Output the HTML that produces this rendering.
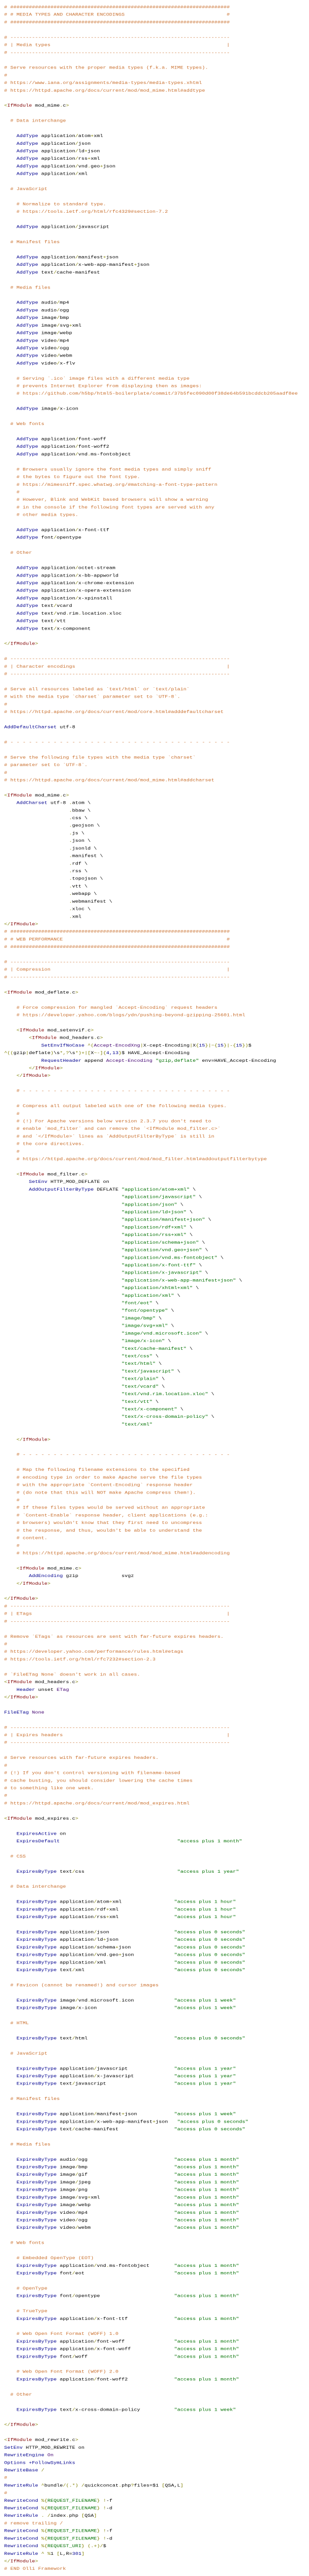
<!DOCTYPE html>
<html><head><meta charset="utf-8">
<meta name="viewport" content="width=600, initial-scale=1">
<style>
html,body{margin:0;padding:0;background:#fff;width:600px;height:6118px;overflow:hidden;-webkit-text-size-adjust:none;text-size-adjust:none;}
#clip{position:absolute;left:0;top:0;width:600px;height:6118px;overflow:hidden;}
#w{position:absolute;left:8px;top:8px;width:1184px;transform:scale(0.5);transform-origin:0 0;font-family:"Liberation Mono",monospace;font-size:20px;line-height:36px;color:#000;}
#w p{margin:0;padding:0;height:36px;overflow:visible;white-space:pre;}
i,b,u,s,em,var{font-style:normal;font-weight:normal;text-decoration:none;}
i{color:#c96f2d}
b{color:#00008f}
u{color:#800000}
em{color:#808000}
s{color:#007000}
var{color:#400070}
</style></head><body><div id="clip"><div id="w">
<p><i># #######################################################################</i></p>
<p><i># # MEDIA TYPES AND CHARACTER ENCODINGS                                 #</i></p>
<p><i># #######################################################################</i></p>
<p></p>
<p><i># -----------------------------------------------------------------------</i></p>
<p><i># | Media types                                                         |</i></p>
<p><i># -----------------------------------------------------------------------</i></p>
<p></p>
<p><i># Serve resources with the proper media types (f.k.a. MIME types).</i></p>
<p><i>#</i></p>
<p><i># https://www.iana.org/assignments/media-types/media-types.xhtml</i></p>
<p><i># https://httpd.apache.org/docs/current/mod/mod_mime.html#addtype</i></p>
<p></p>
<p><em>&lt;</em><u>IfModule</u> mod_mime<em>.</em>c<em>&gt;</em></p>
<p></p>
<p>  <i># Data interchange</i></p>
<p></p>
<p>    <b>AddType</b> application<em>/</em>atom<em>+</em>xml</p>
<p>    <b>AddType</b> application<em>/</em>json</p>
<p>    <b>AddType</b> application<em>/</em>ld<em>+</em>json</p>
<p>    <b>AddType</b> application<em>/</em>rss<em>+</em>xml</p>
<p>    <b>AddType</b> application<em>/</em>vnd<em>.</em>geo<em>+</em>json</p>
<p>    <b>AddType</b> application<em>/</em>xml</p>
<p></p>
<p>  <i># JavaScript</i></p>
<p></p>
<p>    <i># Normalize to standard type.</i></p>
<p>    <i># https://tools.ietf.org/html/rfc4329#section-7.2</i></p>
<p></p>
<p>    <b>AddType</b> application<em>/</em>javascript</p>
<p></p>
<p>  <i># Manifest files</i></p>
<p></p>
<p>    <b>AddType</b> application<em>/</em>manifest<em>+</em>json</p>
<p>    <b>AddType</b> application<em>/</em>x-web-app-manifest<em>+</em>json</p>
<p>    <b>AddType</b> text<em>/</em>cache-manifest</p>
<p></p>
<p>  <i># Media files</i></p>
<p></p>
<p>    <b>AddType</b> audio<em>/</em>mp4</p>
<p>    <b>AddType</b> audio<em>/</em>ogg</p>
<p>    <b>AddType</b> image<em>/</em>bmp</p>
<p>    <b>AddType</b> image<em>/</em>svg<em>+</em>xml</p>
<p>    <b>AddType</b> image<em>/</em>webp</p>
<p>    <b>AddType</b> video<em>/</em>mp4</p>
<p>    <b>AddType</b> video<em>/</em>ogg</p>
<p>    <b>AddType</b> video<em>/</em>webm</p>
<p>    <b>AddType</b> video<em>/</em>x-flv</p>
<p></p>
<p>    <i># Serving `.ico` image files with a different media type</i></p>
<p>    <i># prevents Internet Explorer from displaying then as images:</i></p>
<p>    <i># https://github.com/h5bp/html5-boilerplate/commit/37b5fec090d00f38de64b591bcddcb205aadf8ee</i></p>
<p></p>
<p>    <b>AddType</b> image<em>/</em>x-icon</p>
<p></p>
<p>  <i># Web fonts</i></p>
<p></p>
<p>    <b>AddType</b> application<em>/</em>font-woff</p>
<p>    <b>AddType</b> application<em>/</em>font-woff2</p>
<p>    <b>AddType</b> application<em>/</em>vnd<em>.</em>ms-fontobject</p>
<p></p>
<p>    <i># Browsers usually ignore the font media types and simply sniff</i></p>
<p>    <i># the bytes to figure out the font type.</i></p>
<p>    <i># https://mimesniff.spec.whatwg.org/#matching-a-font-type-pattern</i></p>
<p>    <i>#</i></p>
<p>    <i># However, Blink and WebKit based browsers will show a warning</i></p>
<p>    <i># in the console if the following font types are served with any</i></p>
<p>    <i># other media types.</i></p>
<p></p>
<p>    <b>AddType</b> application<em>/</em>x-font-ttf</p>
<p>    <b>AddType</b> font<em>/</em>opentype</p>
<p></p>
<p>  <i># Other</i></p>
<p></p>
<p>    <b>AddType</b> application<em>/</em>octet-stream</p>
<p>    <b>AddType</b> application<em>/</em>x-bb-appworld</p>
<p>    <b>AddType</b> application<em>/</em>x-chrome-extension</p>
<p>    <b>AddType</b> application<em>/</em>x-opera-extension</p>
<p>    <b>AddType</b> application<em>/</em>x-xpinstall</p>
<p>    <b>AddType</b> text<em>/</em>vcard</p>
<p>    <b>AddType</b> text<em>/</em>vnd<em>.</em>rim<em>.</em>location<em>.</em>xloc</p>
<p>    <b>AddType</b> text<em>/</em>vtt</p>
<p>    <b>AddType</b> text<em>/</em>x-component</p>
<p></p>
<p><em>&lt;/</em><u>IfModule</u><em>&gt;</em></p>
<p></p>
<p><i># -----------------------------------------------------------------------</i></p>
<p><i># | Character encodings                                                 |</i></p>
<p><i># -----------------------------------------------------------------------</i></p>
<p></p>
<p><i># Serve all resources labeled as `text/html` or `text/plain`</i></p>
<p><i># with the media type `charset` parameter set to `UTF-8`.</i></p>
<p><i>#</i></p>
<p><i># https://httpd.apache.org/docs/current/mod/core.html#adddefaultcharset</i></p>
<p></p>
<p><b>AddDefaultCharset</b> utf-8</p>
<p></p>
<p><i># - - - - - - - - - - - - - - - - - - - - - - - - - - - - - - - - - - - -</i></p>
<p></p>
<p><i># Serve the following file types with the media type `charset`</i></p>
<p><i># parameter set to `UTF-8`.</i></p>
<p><i>#</i></p>
<p><i># https://httpd.apache.org/docs/current/mod/mod_mime.html#addcharset</i></p>
<p></p>
<p><em>&lt;</em><u>IfModule</u> mod_mime<em>.</em>c<em>&gt;</em></p>
<p>    <b>AddCharset</b> utf-8 <em>.</em>atom \</p>
<p>                     <em>.</em>bbaw \</p>
<p>                     <em>.</em>css \</p>
<p>                     <em>.</em>geojson \</p>
<p>                     <em>.</em>js \</p>
<p>                     <em>.</em>json \</p>
<p>                     <em>.</em>jsonld \</p>
<p>                     <em>.</em>manifest \</p>
<p>                     <em>.</em>rdf \</p>
<p>                     <em>.</em>rss \</p>
<p>                     <em>.</em>topojson \</p>
<p>                     <em>.</em>vtt \</p>
<p>                     <em>.</em>webapp \</p>
<p>                     <em>.</em>webmanifest \</p>
<p>                     <em>.</em>xloc \</p>
<p>                     <em>.</em>xml</p>
<p><em>&lt;/</em><u>IfModule</u><em>&gt;</em></p>
<p><i># #######################################################################</i></p>
<p><i># # WEB PERFORMANCE                                                     #</i></p>
<p><i># #######################################################################</i></p>
<p></p>
<p><i># -----------------------------------------------------------------------</i></p>
<p><i># | Compression                                                         |</i></p>
<p><i># -----------------------------------------------------------------------</i></p>
<p></p>
<p><em>&lt;</em><u>IfModule</u> mod_deflate<em>.</em>c<em>&gt;</em></p>
<p></p>
<p>    <i># Force compression for mangled `Accept-Encoding` request headers</i></p>
<p>    <i># https://developer.yahoo.com/blogs/ydn/pushing-beyond-gzipping-25601.html</i></p>
<p></p>
<p>    <em>&lt;</em><u>IfModule</u> mod_setenvif<em>.</em>c<em>&gt;</em></p>
<p>        <em>&lt;</em><u>IfModule</u> mod_headers<em>.</em>c<em>&gt;</em></p>
<p>            <b>SetEnvIfNoCase</b> <em>^(</em><var>Accept-EncodXng</var><em>|</em>X-cept-Encoding<em>|</em>X<em>{</em><b>15</b><em>}|~{</em><b>15</b><em>}|-{</em><b>15</b><em>})</em>$</p>
<p><em>^((</em>gzip<em>|</em>deflate<em>)</em>\s<em>*,?</em>\s<em>*)+|[</em>X<em>~-]{</em><b>4,13</b><em>}</em>$ HAVE_Accept-Encoding</p>
<p>            <b>RequestHeader</b> append <var>Accept-Encoding</var> <s>"gzip,deflate"</s> env=HAVE_Accept-Encoding</p>
<p>        <em>&lt;/</em><u>IfModule</u><em>&gt;</em></p>
<p>    <em>&lt;/</em><u>IfModule</u><em>&gt;</em></p>
<p></p>
<p>    <i># - - - - - - - - - - - - - - - - - - - - - - - - - - - - - - - - - -</i></p>
<p></p>
<p>    <i># Compress all output labeled with one of the following media types.</i></p>
<p>    <i>#</i></p>
<p>    <i># (!) For Apache versions below version 2.3.7 you don't need to</i></p>
<p>    <i># enable `mod_filter` and can remove the `&lt;IfModule mod_filter.c&gt;`</i></p>
<p>    <i># and `&lt;/IfModule&gt;` lines as `AddOutputFilterByType` is still in</i></p>
<p>    <i># the core directives.</i></p>
<p>    <i>#</i></p>
<p>    <i># https://httpd.apache.org/docs/current/mod/mod_filter.html#addoutputfilterbytype</i></p>
<p></p>
<p>    <em>&lt;</em><u>IfModule</u> mod_filter<em>.</em>c<em>&gt;</em></p>
<p>        <b>SetEnv</b> HTTP_MOD_DEFLATE on</p>
<p>        <b>AddOutputFilterByType</b> DEFLATE <s>"application/atom+xml"</s> \</p>
<p>                                      <s>"application/javascript"</s> \</p>
<p>                                      <s>"application/json"</s> \</p>
<p>                                      <s>"application/ld+json"</s> \</p>
<p>                                      <s>"application/manifest+json"</s> \</p>
<p>                                      <s>"application/rdf+xml"</s> \</p>
<p>                                      <s>"application/rss+xml"</s> \</p>
<p>                                      <s>"application/schema+json"</s> \</p>
<p>                                      <s>"application/vnd.geo+json"</s> \</p>
<p>                                      <s>"application/vnd.ms-fontobject"</s> \</p>
<p>                                      <s>"application/x-font-ttf"</s> \</p>
<p>                                      <s>"application/x-javascript"</s> \</p>
<p>                                      <s>"application/x-web-app-manifest+json"</s> \</p>
<p>                                      <s>"application/xhtml+xml"</s> \</p>
<p>                                      <s>"application/xml"</s> \</p>
<p>                                      <s>"font/eot"</s> \</p>
<p>                                      <s>"font/opentype"</s> \</p>
<p>                                      <s>"image/bmp"</s> \</p>
<p>                                      <s>"image/svg+xml"</s> \</p>
<p>                                      <s>"image/vnd.microsoft.icon"</s> \</p>
<p>                                      <s>"image/x-icon"</s> \</p>
<p>                                      <s>"text/cache-manifest"</s> \</p>
<p>                                      <s>"text/css"</s> \</p>
<p>                                      <s>"text/html"</s> \</p>
<p>                                      <s>"text/javascript"</s> \</p>
<p>                                      <s>"text/plain"</s> \</p>
<p>                                      <s>"text/vcard"</s> \</p>
<p>                                      <s>"text/vnd.rim.location.xloc"</s> \</p>
<p>                                      <s>"text/vtt"</s> \</p>
<p>                                      <s>"text/x-component"</s> \</p>
<p>                                      <s>"text/x-cross-domain-policy"</s> \</p>
<p>                                      <s>"text/xml"</s></p>
<p></p>
<p>    <em>&lt;/</em><u>IfModule</u><em>&gt;</em></p>
<p></p>
<p>    <i># - - - - - - - - - - - - - - - - - - - - - - - - - - - - - - - - - -</i></p>
<p></p>
<p>    <i># Map the following filename extensions to the specified</i></p>
<p>    <i># encoding type in order to make Apache serve the file types</i></p>
<p>    <i># with the appropriate `Content-Encoding` response header</i></p>
<p>    <i># (do note that this will NOT make Apache compress them!).</i></p>
<p>    <i>#</i></p>
<p>    <i># If these files types would be served without an appropriate</i></p>
<p>    <i># `Content-Enable` response header, client applications (e.g.:</i></p>
<p>    <i># browsers) wouldn't know that they first need to uncompress</i></p>
<p>    <i># the response, and thus, wouldn't be able to understand the</i></p>
<p>    <i># content.</i></p>
<p>    <i>#</i></p>
<p>    <i># https://httpd.apache.org/docs/current/mod/mod_mime.html#addencoding</i></p>
<p></p>
<p>    <em>&lt;</em><u>IfModule</u> mod_mime<em>.</em>c<em>&gt;</em></p>
<p>        <b>AddEncoding</b> gzip              svgz</p>
<p>    <em>&lt;/</em><u>IfModule</u><em>&gt;</em></p>
<p></p>
<p><em>&lt;/</em><u>IfModule</u><em>&gt;</em></p>
<p><i># -----------------------------------------------------------------------</i></p>
<p><i># | ETags                                                               |</i></p>
<p><i># -----------------------------------------------------------------------</i></p>
<p></p>
<p><i># Remove `ETags` as resources are sent with far-future expires headers.</i></p>
<p><i>#</i></p>
<p><i># https://developer.yahoo.com/performance/rules.html#etags</i></p>
<p><i># https://tools.ietf.org/html/rfc7232#section-2.3</i></p>
<p></p>
<p><i># `FileETag None` doesn't work in all cases.</i></p>
<p><em>&lt;</em><u>IfModule</u> mod_headers<em>.</em>c<em>&gt;</em></p>
<p>    <b>Header</b> unset <var>ETag</var></p>
<p><em>&lt;/</em><u>IfModule</u><em>&gt;</em></p>
<p></p>
<p><b>FileETag</b> <var>None</var></p>
<p></p>
<p><i># -----------------------------------------------------------------------</i></p>
<p><i># | Expires headers                                                     |</i></p>
<p><i># -----------------------------------------------------------------------</i></p>
<p></p>
<p><i># Serve resources with far-future expires headers.</i></p>
<p><i>#</i></p>
<p><i># (!) If you don't control versioning with filename-based</i></p>
<p><i># cache busting, you should consider lowering the cache times</i></p>
<p><i># to something like one week.</i></p>
<p><i>#</i></p>
<p><i># https://httpd.apache.org/docs/current/mod/mod_expires.html</i></p>
<p></p>
<p><em>&lt;</em><u>IfModule</u> mod_expires<em>.</em>c<em>&gt;</em></p>
<p></p>
<p>    <b>ExpiresActive</b> on</p>
<p>    <b>ExpiresDefault</b>                                      <s>"access plus 1 month"</s></p>
<p></p>
<p>  <i># CSS</i></p>
<p></p>
<p>    <b>ExpiresByType</b> text<em>/</em>css                              <s>"access plus 1 year"</s></p>
<p></p>
<p>  <i># Data interchange</i></p>
<p></p>
<p>    <b>ExpiresByType</b> application<em>/</em>atom<em>+</em>xml                 <s>"access plus 1 hour"</s></p>
<p>    <b>ExpiresByType</b> application<em>/</em>rdf<em>+</em>xml                  <s>"access plus 1 hour"</s></p>
<p>    <b>ExpiresByType</b> application<em>/</em>rss<em>+</em>xml                  <s>"access plus 1 hour"</s></p>
<p></p>
<p>    <b>ExpiresByType</b> application<em>/</em>json                     <s>"access plus 0 seconds"</s></p>
<p>    <b>ExpiresByType</b> application<em>/</em>ld<em>+</em>json                  <s>"access plus 0 seconds"</s></p>
<p>    <b>ExpiresByType</b> application<em>/</em>schema<em>+</em>json              <s>"access plus 0 seconds"</s></p>
<p>    <b>ExpiresByType</b> application<em>/</em>vnd<em>.</em>geo<em>+</em>json             <s>"access plus 0 seconds"</s></p>
<p>    <b>ExpiresByType</b> application<em>/</em>xml                      <s>"access plus 0 seconds"</s></p>
<p>    <b>ExpiresByType</b> text<em>/</em>xml                             <s>"access plus 0 seconds"</s></p>
<p></p>
<p>  <i># Favicon (cannot be renamed!) and cursor images</i></p>
<p></p>
<p>    <b>ExpiresByType</b> image<em>/</em>vnd<em>.</em>microsoft<em>.</em>icon             <s>"access plus 1 week"</s></p>
<p>    <b>ExpiresByType</b> image<em>/</em>x-icon                         <s>"access plus 1 week"</s></p>
<p></p>
<p>  <i># HTML</i></p>
<p></p>
<p>    <b>ExpiresByType</b> text<em>/</em>html                            <s>"access plus 0 seconds"</s></p>
<p></p>
<p>  <i># JavaScript</i></p>
<p></p>
<p>    <b>ExpiresByType</b> application<em>/</em>javascript               <s>"access plus 1 year"</s></p>
<p>    <b>ExpiresByType</b> application<em>/</em>x-javascript             <s>"access plus 1 year"</s></p>
<p>    <b>ExpiresByType</b> text<em>/</em>javascript                      <s>"access plus 1 year"</s></p>
<p></p>
<p>  <i># Manifest files</i></p>
<p></p>
<p>    <b>ExpiresByType</b> application<em>/</em>manifest<em>+</em>json            <s>"access plus 1 week"</s></p>
<p>    <b>ExpiresByType</b> application<em>/</em>x-web-app-manifest<em>+</em>json   <s>"access plus 0 seconds"</s></p>
<p>    <b>ExpiresByType</b> text<em>/</em>cache-manifest                  <s>"access plus 0 seconds"</s></p>
<p></p>
<p>  <i># Media files</i></p>
<p></p>
<p>    <b>ExpiresByType</b> audio<em>/</em>ogg                            <s>"access plus 1 month"</s></p>
<p>    <b>ExpiresByType</b> image<em>/</em>bmp                            <s>"access plus 1 month"</s></p>
<p>    <b>ExpiresByType</b> image<em>/</em>gif                            <s>"access plus 1 month"</s></p>
<p>    <b>ExpiresByType</b> image<em>/</em>jpeg                           <s>"access plus 1 month"</s></p>
<p>    <b>ExpiresByType</b> image<em>/</em>png                            <s>"access plus 1 month"</s></p>
<p>    <b>ExpiresByType</b> image<em>/</em>svg<em>+</em>xml                        <s>"access plus 1 month"</s></p>
<p>    <b>ExpiresByType</b> image<em>/</em>webp                           <s>"access plus 1 month"</s></p>
<p>    <b>ExpiresByType</b> video<em>/</em>mp4                            <s>"access plus 1 month"</s></p>
<p>    <b>ExpiresByType</b> video<em>/</em>ogg                            <s>"access plus 1 month"</s></p>
<p>    <b>ExpiresByType</b> video<em>/</em>webm                           <s>"access plus 1 month"</s></p>
<p></p>
<p>  <i># Web fonts</i></p>
<p></p>
<p>    <i># Embedded OpenType (EOT)</i></p>
<p>    <b>ExpiresByType</b> application<em>/</em>vnd<em>.</em>ms-fontobject        <s>"access plus 1 month"</s></p>
<p>    <b>ExpiresByType</b> font<em>/</em>eot                             <s>"access plus 1 month"</s></p>
<p></p>
<p>    <i># OpenType</i></p>
<p>    <b>ExpiresByType</b> font<em>/</em>opentype                        <s>"access plus 1 month"</s></p>
<p></p>
<p>    <i># TrueType</i></p>
<p>    <b>ExpiresByType</b> application<em>/</em>x-font-ttf               <s>"access plus 1 month"</s></p>
<p></p>
<p>    <i># Web Open Font Format (WOFF) 1.0</i></p>
<p>    <b>ExpiresByType</b> application<em>/</em>font-woff                <s>"access plus 1 month"</s></p>
<p>    <b>ExpiresByType</b> application<em>/</em>x-font-woff              <s>"access plus 1 month"</s></p>
<p>    <b>ExpiresByType</b> font<em>/</em>woff                            <s>"access plus 1 month"</s></p>
<p></p>
<p>    <i># Web Open Font Format (WOFF) 2.0</i></p>
<p>    <b>ExpiresByType</b> application<em>/</em>font-woff2               <s>"access plus 1 month"</s></p>
<p></p>
<p>  <i># Other</i></p>
<p></p>
<p>    <b>ExpiresByType</b> text<em>/</em>x-cross-domain-policy           <s>"access plus 1 week"</s></p>
<p></p>
<p><em>&lt;/</em><u>IfModule</u><em>&gt;</em></p>
<p></p>
<p><em>&lt;</em><u>IfModule</u> mod_rewrite<em>.</em>c<em>&gt;</em></p>
<p><b>SetEnv</b> HTTP_MOD_REWRITE on</p>
<p><b>RewriteEngine</b> <var>On</var></p>
<p><b>Options +FollowSymLinks</b></p>
<p><b>RewriteBase</b> <em>/</em></p>
<p><i>#</i></p>
<p><b>RewriteRule</b> <em>^</em>bundle<em>/(.*)</em> <em>/</em>quickconcat<em>.</em>php<em>?</em>files=$1 <em>[</em>QSA,L<em>]</em></p>
<p><i>#</i></p>
<p><b>RewriteCond</b> <em>%{</em><s>REQUEST_FILENAME</s><em>}</em> <em>!</em>-f</p>
<p><b>RewriteCond</b> <em>%{</em><s>REQUEST_FILENAME</s><em>}</em> <em>!</em>-d</p>
<p><b>RewriteRule</b> <em>.</em> <em>/</em>index<em>.</em>php <em>[</em>QSA<em>]</em></p>
<p><i># remove trailing /</i></p>
<p><b>RewriteCond</b> <em>%{</em><s>REQUEST_FILENAME</s><em>}</em> <em>!</em>-f</p>
<p><b>RewriteCond</b> <em>%{</em><s>REQUEST_FILENAME</s><em>}</em> <em>!</em>-d</p>
<p><b>RewriteCond</b> <em>%{</em><s>REQUEST_URI</s><em>}</em> <em>(.+)/</em>$</p>
<p><b>RewriteRule</b> <em>^</em> <em>%</em>1 <em>[</em>L,R=<b>301</b><em>]</em></p>
<p><em>&lt;/</em><u>IfModule</u><em>&gt;</em></p>
<p><i># END Olli Framework</i></p>
</div></div>
<script>
(function(){
  var w=document.getElementById('w');
  var ih=window.innerHeight||6118;
  var sy=Math.min(1, ih/6118);
  if(sy>0.3 && sy<0.999){
    w.style.transform='scale(0.5,'+(0.5*sy)+')';
    w.style.top=(8*sy)+'px';
  }
})();
</script>
</body></html>
